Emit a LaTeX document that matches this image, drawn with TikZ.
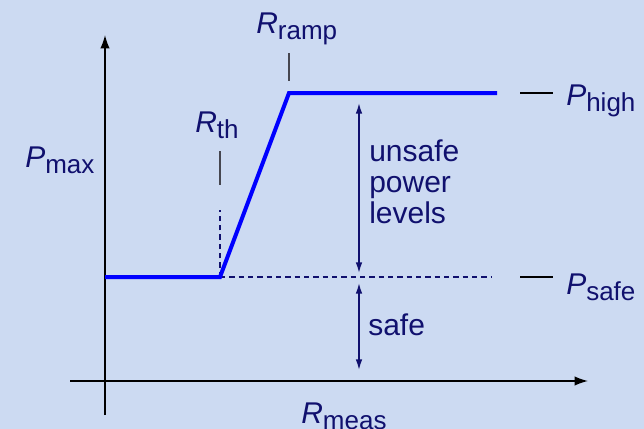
\documentclass[tikz,border=0pt]{standalone}
\usepackage{fontspec}
\setmainfont{Liberation Sans}
\usetikzlibrary{arrows.meta}
\definecolor{bgc}{RGB}{204,218,242}
\definecolor{navy}{RGB}{16,16,110}
\definecolor{pureblue}{RGB}{0,0,255}
\definecolor{tickgray}{RGB}{70,70,80}
\newcommand{\symlbl}[2]{{\fontsize{22.5}{22.5}\selectfont\itshape #1}\raisebox{-5.2pt}{\fontsize{19.5}{19.5}\selectfont #2}}
\begin{document}
\begin{tikzpicture}[x=0.75pt,y=-0.75pt,
  lbl/.style={inner sep=0pt,anchor=base west,text=navy},
  axis/.style={black,line width=1.1pt,-{Latex[length=10pt,width=7pt]}},
  curve/.style={pureblue,line width=3pt,line join=miter},
  dashln/.style={navy,line width=0.8pt,dash pattern=on 4pt off 3pt},
  tickln/.style={tickgray,line width=1.1pt},
  pticks/.style={black,line width=0.8pt},
  dimarrow/.style={navy,line width=1.1pt,{Latex[length=8pt,width=5pt]}-{Latex[length=8pt,width=5pt]}}]
\fill[bgc] (0,0) rectangle (644,429);
\useasboundingbox (0,0) rectangle (644,429);
% coordinates
\coordinate (yb) at (105,415);
\coordinate (yt) at (105,35);
\coordinate (xl) at (70,381);
\coordinate (xr) at (588,381);
\coordinate (c0) at (105,277);
\coordinate (c1) at (220,277);
\coordinate (c2) at (289,93);
\coordinate (c3) at (497,93);
\coordinate (dv) at (220,210);
\coordinate (dh) at (492,277);
\coordinate (rt1) at (220,151);
\coordinate (rt2) at (220,185);
\coordinate (rr1) at (289,53);
\coordinate (rr2) at (289,81);
\coordinate (ph1) at (520,93);
\coordinate (ph2) at (553,93);
\coordinate (ps1) at (520,277);
\coordinate (ps2) at (553,277);
\coordinate (ua1) at (359,103);
\coordinate (ua2) at (359,273);
\coordinate (sa1) at (359,283);
\coordinate (sa2) at (359,370);
% axes
\draw[axis] (yb) -- (yt);
\draw[axis] (xl) -- (xr);
% dashed guides
\draw[dashln] (c1) -- (dv);
\draw[dashln] (c1) -- (dh);
% curve
\draw[curve] (c0) -- (c1) -- (c2) -- (c3);
% ticks
\draw[tickln] (rt1) -- (rt2);
\draw[tickln] (rr1) -- (rr2);
\draw[pticks] (ph1) -- (ph2);
\draw[pticks] (ps1) -- (ps2);
% dimension arrows
\draw[dimarrow] (ua1) -- (ua2);
\draw[dimarrow] (sa1) -- (sa2);
% labels
\node[lbl] (pmax) at (25,167) {\symlbl{P}{max}};
\node[lbl] (rth) at (195,132) {\symlbl{R}{th}};
\node[lbl] (rramp) at (256,33) {\symlbl{R}{ramp}};
\node[lbl] (phigh) at (566,105) {\symlbl{P}{high}};
\node[lbl] (psafe) at (566,294) {\symlbl{P}{safe}};
\node[lbl] (rmeas) at (301,423) {\symlbl{R}{meas}};
\node[lbl,align=left,font=\fontsize{22.5}{23}\selectfont] (unsafe) at (369,223) {unsafe\\power\\levels};
\node[lbl,font=\fontsize{22.5}{23}\selectfont] (safe) at (368,335) {safe};
\end{tikzpicture}
\end{document}
